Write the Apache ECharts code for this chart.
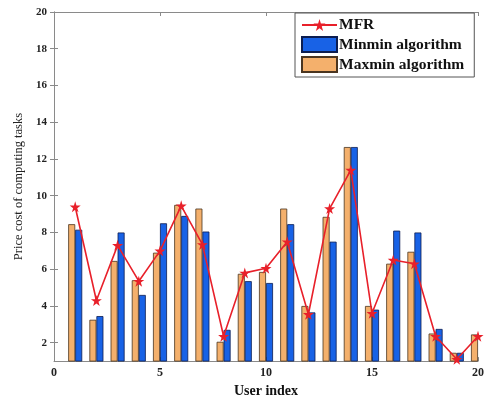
<!DOCTYPE html>
<html>
<head>
  <meta charset="utf-8">
  <title>Price cost of computing tasks</title>
  <script src="https://cdn.jsdelivr.net/npm/echarts@6/dist/echarts.min.js"></script>
  <style>
    html, body { margin: 0; padding: 0; background: #fff; }
    #chart { width: 487px; height: 403px; }
  </style>
</head>
<body>
  <div id="chart"></div>
  <script>
    // user index 1..20
    var userIndex = [1, 2, 3, 4, 5, 6, 7, 8, 9, 10, 11, 12, 13, 14, 15, 16, 17, 18, 19, 20];
    var mfr = [9.4, 4.3, 7.3, 5.35, 7.0, 9.45, 7.35, 2.35, 5.8, 6.05, 7.5, 3.55, 9.3, 11.4, 3.6, 6.5, 6.3, 2.35, 1.1, 2.35];
    var minmin = [8.15, 3.45, 8.0, 4.6, 8.5, 8.9, 8.05, 2.7, 5.35, 5.25, 8.45, 3.65, 7.5, 12.65, 3.8, 8.1, 8.0, 2.75, 1.45, 0];
    var maxmin = [8.45, 3.25, 6.45, 5.4, 6.9, 9.5, 9.3, 2.05, 5.75, 5.85, 9.3, 4.0, 8.85, 12.65, 4.0, 6.3, 6.95, 2.5, 1.45, 2.45];
    var yTicks = [2, 4, 6, 8, 10, 12, 14, 16, 18, 20];

    function pairs(vals) {
      return userIndex.map(function (x, i) { return [x, vals[i]]; });
    }

    var font = '"Liberation Serif", "DejaVu Serif", serif';
    var starPath = 'path://M50,0 L61,35 L98,35 L68,57 L79,91 L50,70 L21,91 L32,57 L2,35 L39,35 Z';
    var axisColor = '#8a8a8a';

    var chart = echarts.init(document.getElementById('chart'));
    chart.setOption({
      animation: false,
      grid: { left: 54, right: 6, top: 12, bottom: 34 },
      legend: {
        data: [
          { name: 'MFR' },
          { name: 'Minmin algorithm', icon: 'rect' },
          { name: 'Maxmin algorithm', icon: 'rect' }
        ],
        orient: 'vertical',
        left: 295,
        top: 13,
        padding: [4, 10, 4, 6],
        itemGap: 3,
        itemWidth: 35,
        itemHeight: 15,
        borderColor: '#555',
        borderWidth: 1,
        backgroundColor: '#fff',
        textStyle: { fontFamily: font, fontWeight: 'bold', fontSize: 15.5, color: '#111', padding: [0, 0, 0, -3] }
      },
      xAxis: [{
        type: 'value', min: 0, max: 20, interval: 5, position: 'bottom',
        name: 'User index', nameLocation: 'middle', nameGap: 17,
        nameTextStyle: { fontFamily: font, fontWeight: 'bold', fontSize: 14, color: '#111' },
        axisLine: { lineStyle: { color: axisColor } },
        axisTick: { inside: true, length: 4, lineStyle: { color: axisColor } },
        axisLabel: { fontFamily: font, fontWeight: 'bold', fontSize: 12, color: '#222', margin: 6 },
        splitLine: { show: false }
      }, {
        type: 'value', min: 0, max: 20, interval: 5, position: 'top',
        axisLine: { lineStyle: { color: axisColor } },
        axisTick: { inside: true, length: 4, lineStyle: { color: axisColor } },
        axisLabel: { show: false },
        splitLine: { show: false }
      }],
      yAxis: [{
        type: 'value', min: 1, max: 20, position: 'left',
        name: 'Price cost of computing tasks', nameLocation: 'middle', nameGap: 28,
        nameTextStyle: { fontFamily: font, fontSize: 12.5, color: '#222' },
        axisLine: { show: true, lineStyle: { color: axisColor } },
        axisTick: { show: true, inside: true, length: 4, customValues: yTicks, lineStyle: { color: axisColor } },
        axisLabel: { customValues: yTicks, fontFamily: font, fontWeight: 'bold', fontSize: 11, color: '#222', margin: 7 },
        splitLine: { show: false }
      }, {
        type: 'value', min: 1, max: 20, position: 'right',
        axisLine: { show: true, lineStyle: { color: axisColor } },
        axisTick: { show: true, inside: true, length: 4, customValues: yTicks, lineStyle: { color: axisColor } },
        axisLabel: { show: false },
        splitLine: { show: false }
      }],
      series: [{
        name: 'Maxmin algorithm',
        type: 'bar',
        data: pairs(maxmin),
        barWidth: 7,
        barGap: '0%',
        itemStyle: { color: '#f4b06c', borderColor: '#4a3520', borderWidth: 0.8 }
      }, {
        name: 'Minmin algorithm',
        type: 'bar',
        data: pairs(minmin),
        barWidth: 7,
        barGap: '0%',
        itemStyle: { color: '#1862e6', borderColor: '#0c1d50', borderWidth: 0.8 }
      }, {
        name: 'MFR',
        type: 'line',
        data: pairs(mfr),
        z: 5,
        symbol: starPath,
        symbolSize: 11,
        lineStyle: { color: '#e8202a', width: 1.6 },
        itemStyle: { color: '#e8202a' }
      }]
    });
  </script>
</body>
</html>
